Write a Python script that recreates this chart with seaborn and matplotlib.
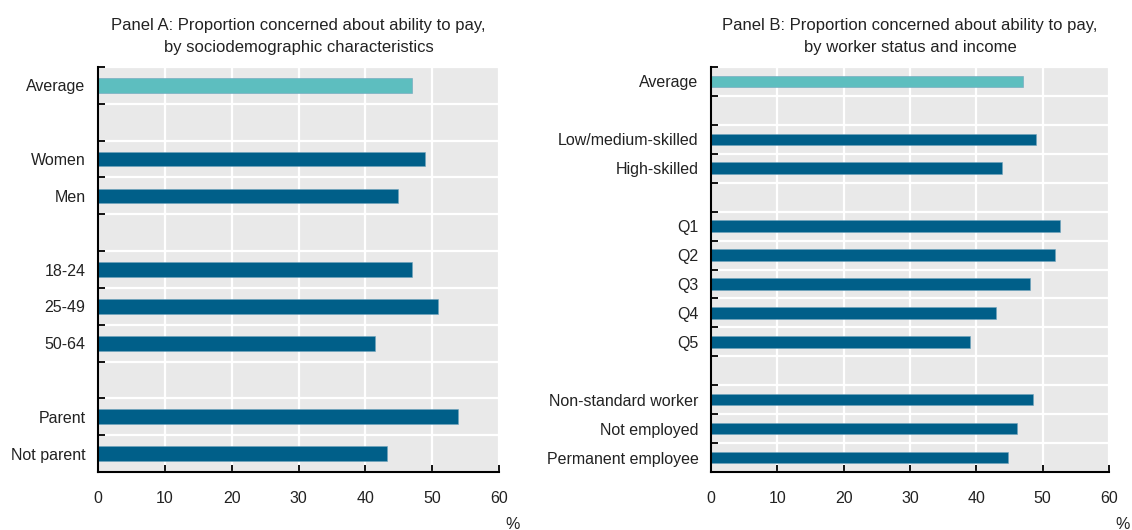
import numpy as np
import pandas as pd
import matplotlib.pyplot as plt
import seaborn as sns

# Panel A data
labels_a = ["Average", " ", "Women", "Men", "  ", "18-24", "25-49", "50-64", "   ", "Parent", "Not parent"]
values_a = [47.0, None, 48.9, 44.9, None, 47.0, 50.8, 41.4, None, 53.9, 43.3]

# Panel B data
labels_b = ["Average", " ", "Low/medium-skilled", "High-skilled", "  ", "Q1", "Q2", "Q3", "Q4", "Q5",
            "   ", "Non-standard worker", "Not employed", "Permanent employee"]
values_b = [47.0, None, 49.0, 43.8, None, 52.6, 51.8, 48.1, 43.0, 39.0, None, 48.5, 46.1, 44.8]

title_a = "Panel A: Proportion concerned about ability to pay,\nby sociodemographic characteristics"
title_b = "Panel B: Proportion concerned about ability to pay,\nby worker status and income"

x_ticks = [0, 10, 20, 30, 40, 50, 60]

palette = {"avg": "#5DBEBF", "other": "#005F89"}

sns.set_theme(style="darkgrid", rc={
    "axes.facecolor": "#E9E9E9",
    "grid.color": "white",
    "grid.linewidth": 1.6,
    "axes.edgecolor": "black",
})
plt.rcParams["font.family"] = ["Liberation Sans", "DejaVu Sans"]
plt.rcParams["text.color"] = "#222222"
plt.rcParams["xtick.color"] = "black"
plt.rcParams["ytick.color"] = "black"
plt.rcParams["xtick.labelcolor"] = "#222222"
plt.rcParams["ytick.labelcolor"] = "#222222"


def make_frame(labels, values):
    rows = []
    for lab, val in zip(labels, values):
        if val is None:
            continue
        rows.append({"label": lab, "value": val, "group": "avg" if lab == "Average" else "other"})
    return pd.DataFrame(rows)


def draw_panel(ax, labels, values, title):
    df = make_frame(labels, values)
    sns.barplot(data=df, x="value", y="label", hue="group", order=labels, palette=palette,
                dodge=False, width=0.4, legend=False, ax=ax, orient="h", saturation=1,
                edgecolor="#6FA3BD", linewidth=0.4)
    n = len(labels)
    ax.set_xlim(0, 60)
    ax.set_ylim(n - 0.5, -0.5)
    ax.set_xticks(x_ticks)
    ax.set_yticks(np.arange(-0.5, n, 1.0), minor=True)
    ax.grid(False, axis="y", which="major")
    ax.grid(True, axis="y", which="minor")
    ax.grid(True, axis="x", which="major")
    ax.tick_params(axis="y", which="major", length=0, pad=9, labelsize=11.5)
    ax.tick_params(axis="y", which="minor", direction="in", length=5, width=1.3, left=True)
    ax.tick_params(axis="x", which="major", direction="in", length=5, width=1.3, bottom=True,
                   pad=14, labelsize=11.5)
    for side in ["top", "right"]:
        ax.spines[side].set_visible(False)
    for side in ["left", "bottom"]:
        ax.spines[side].set_visible(True)
        ax.spines[side].set_color("black")
        ax.spines[side].set_linewidth(1.5)
    ax.set_xlabel("")
    ax.set_ylabel("")
    ax.set_title(title, fontsize=12, pad=11, linespacing=1.6)
    ax.text(1.035, -0.13, "%", transform=ax.transAxes, ha="center", va="center", fontsize=11.5)


fig = plt.figure(figsize=(11.32, 5.3), dpi=100)
ax_a = fig.add_axes([98 / 1132, 1 - 472 / 530, 401 / 1132, 405 / 530])
ax_b = fig.add_axes([711 / 1132, 1 - 472 / 530, 398 / 1132, 405 / 530])

draw_panel(ax_a, labels_a, values_a, title_a)
draw_panel(ax_b, labels_b, values_b, title_b)

fig.savefig("out.png", dpi=100)
